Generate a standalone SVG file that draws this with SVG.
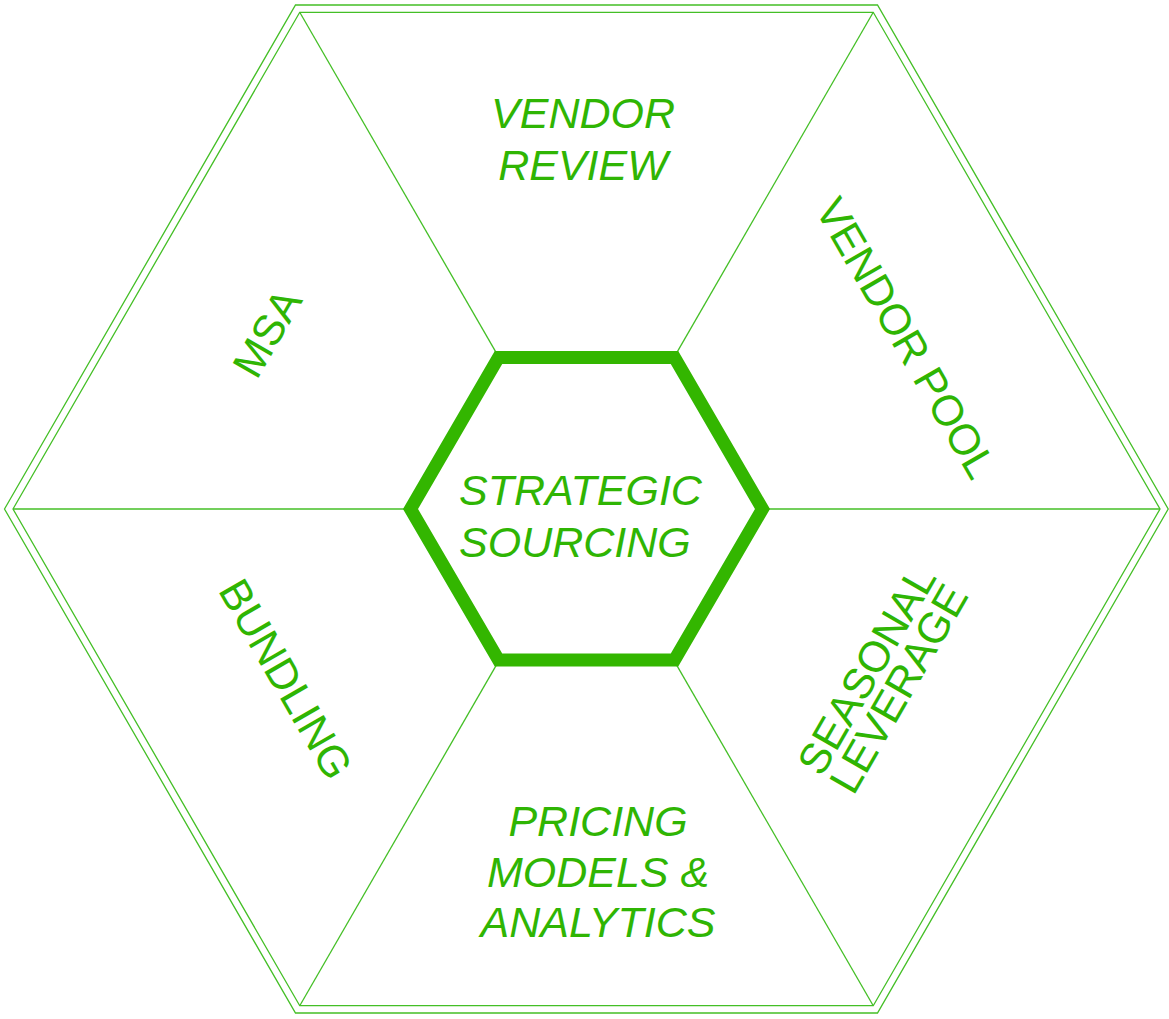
<svg xmlns="http://www.w3.org/2000/svg" width="1169" height="1019" viewBox="0 0 1169 1019">
<style>
.thin{fill:none;stroke:#44bf26;stroke-width:1.3}
.core{fill:none;stroke:#33b600;stroke-width:13;stroke-linejoin:miter}
.t{font-family:"Liberation Sans",Arial,sans-serif;font-size:43px;fill:#2fb503;text-anchor:middle}
.i{font-style:italic}
.s{text-anchor:start}
</style>
<rect width="1169" height="1019" fill="#ffffff"/>
<g id="frame">
<polygon class="thin" points="4.5,509 295.5,5 877.5,5 1168.2,509 877.5,1013 295.5,1013"/>
<polygon class="thin" points="13,509 299.75,12.3 873.25,12.3 1160,509 873.25,1005.7 299.75,1005.7"/>
</g>
<g id="connectors">
<line class="thin" x1="498.5" y1="356.6" x2="299.75" y2="12.3"/>
<line class="thin" x1="674.5" y1="356.6" x2="873.25" y2="12.3"/>
<line class="thin" x1="762.5" y1="509" x2="1160" y2="509"/>
<line class="thin" x1="674.5" y1="661.4" x2="873.25" y2="1005.7"/>
<line class="thin" x1="498.5" y1="661.4" x2="299.75" y2="1005.7"/>
<line class="thin" x1="410.5" y1="509" x2="13" y2="509"/>
</g>
<g id="center">
<polygon class="core" points="410.5,509 498.5,357.5 674.5,357.5 762.5,509 674.5,660 498.5,660"/>
<text class="t i s" x="459" y="505" font-size="44">STRATEGIC</text>
<text class="t i s" x="459" y="557" font-size="44">SOURCING</text>
</g>
<g id="vendor-review">
<text class="t i" x="583" y="128">VENDOR</text>
<text class="t i" x="583" y="180">REVIEW</text>
</g>
<g id="vendor-pool" transform="translate(906,338) rotate(60)">
<text class="t" x="0" y="15">VENDOR POOL</text>
</g>
<g id="seasonal-leverage" transform="translate(882,679) rotate(-60)">
<text class="t" x="0" y="-3">SEASONAL</text>
<text class="t" x="0" y="34">LEVERAGE</text>
</g>
<g id="pricing">
<text class="t i" x="598" y="836">PRICING</text>
<text class="t i" x="598" y="887">MODELS &amp;</text>
<text class="t i" x="598" y="937">ANALYTICS</text>
</g>
<g id="bundling" transform="translate(286,679) rotate(60)">
<text class="t" x="0" y="15">BUNDLING</text>
</g>
<g id="msa" transform="translate(267,333) rotate(-60)">
<text class="t" x="0" y="15">MSA</text>
</g>
</svg>
